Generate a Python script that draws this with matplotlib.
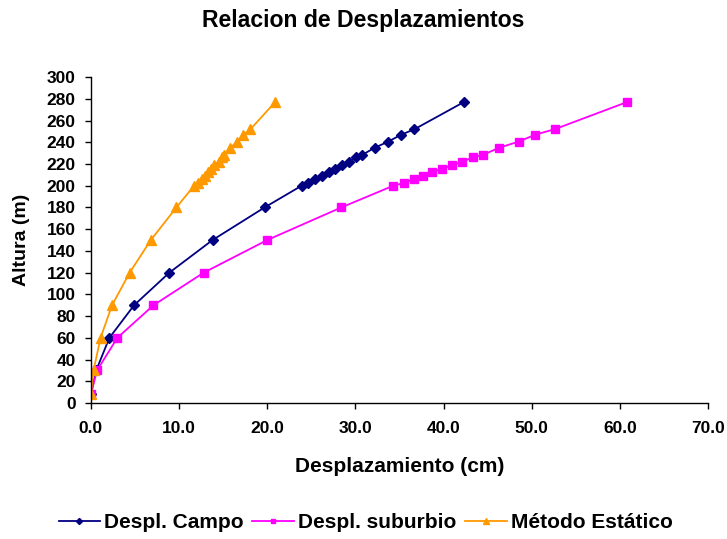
import matplotlib
matplotlib.use("Agg")
import matplotlib.pyplot as plt
from matplotlib.ticker import MultipleLocator, FormatStrFormatter

# Alturas de los niveles (m)
altura = [8, 30, 60, 90, 120, 150, 180, 200, 202.5, 206, 209, 212.5, 215.5,
          219, 222, 226, 228.5, 235, 240.5, 247, 252, 277]

# Desplazamientos (cm)
despl_campo = [0, 0.6, 2.1, 4.9, 8.9, 13.8, 19.7, 23.9, 24.6, 25.4, 26.2, 27.0,
               27.7, 28.5, 29.3, 30.1, 30.8, 32.2, 33.7, 35.2, 36.7, 42.3]
despl_suburbio = [0, 0.7, 3.0, 7.1, 12.8, 20.0, 28.4, 34.3, 35.5, 36.6, 37.7,
                  38.7, 39.8, 41.0, 42.1, 43.3, 44.5, 46.3, 48.5, 50.4, 52.6, 60.8]
metodo_estatico = [0, 0.3, 1.1, 2.4, 4.4, 6.8, 9.7, 11.7, 12.1, 12.6, 12.9, 13.3,
                   13.6, 14.0, 14.5, 14.9, 15.1, 15.8, 16.6, 17.3, 18.1, 20.9]

plt.rcParams["font.family"] = ["Liberation Sans", "DejaVu Sans"]
plt.rcParams["font.weight"] = "bold"

fig = plt.figure(figsize=(7.27, 5.39), dpi=100)
ax = fig.add_axes([0.125, 0.2523, 0.849, 0.6047])

ax.plot(despl_campo, altura, color="#000080", marker="D", markersize=4.8,
        linewidth=1.3, label="Despl. Campo")
ax.plot(despl_suburbio, altura, color="#FF00FF", marker="s", markersize=5.5,
        linewidth=1.3, label="Despl. suburbio")
ax.plot(metodo_estatico, altura, color="#FF9900", marker="^", markersize=7,
        linewidth=1.3, label="Método Estático")

ax.set_xlim(0, 70)
ax.set_ylim(0, 300)
ax.xaxis.set_major_locator(MultipleLocator(10))
ax.yaxis.set_major_locator(MultipleLocator(20))
ax.xaxis.set_major_formatter(FormatStrFormatter("%.1f"))

for side in ("top", "right"):
    ax.spines[side].set_visible(False)
for side in ("left", "bottom"):
    ax.spines[side].set_color("black")
    ax.spines[side].set_linewidth(1.0)
ax.tick_params(direction="out", length=4, width=1, labelsize=12.5)
ax.tick_params(axis="x", pad=9)
ax.tick_params(axis="y", pad=7)

ax.set_xlabel("Desplazamiento (cm)", fontsize=15, fontweight="bold")
ax.set_ylabel("Altura (m)", fontsize=14, fontweight="bold")
ax.xaxis.set_label_coords(0.5, -0.166)
ax.yaxis.set_label_coords(-0.098, 0.5)
fig.suptitle("Relacion de Desplazamientos", fontsize=16.6, fontweight="bold",
             x=0.499, y=0.983)

fig.legend(loc="lower center", bbox_to_anchor=(0.503, -0.022), ncol=3,
           frameon=False, fontsize=15, handlelength=2.0, handletextpad=0.2,
           columnspacing=0.4, markerscale=0.65)

fig.savefig("out.png", dpi=100)
